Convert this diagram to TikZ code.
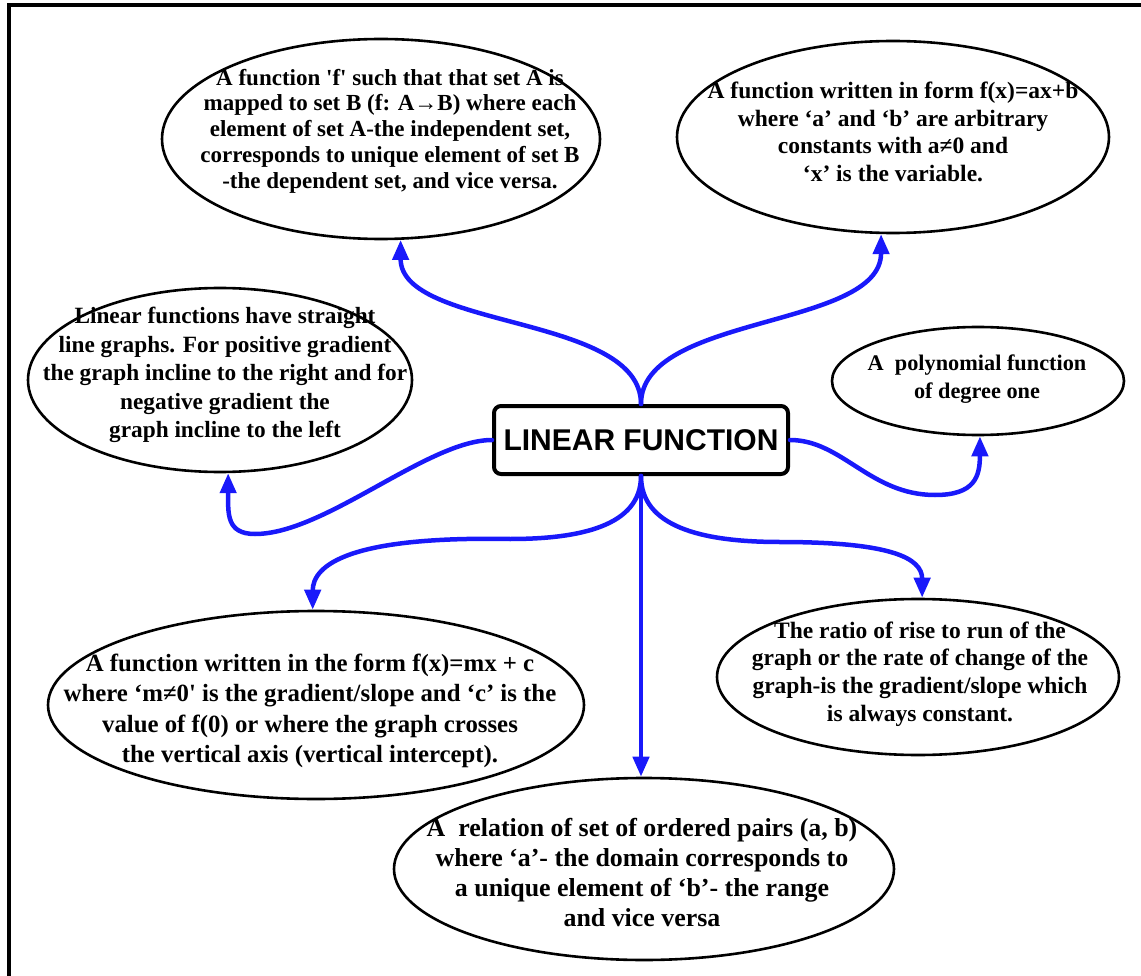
\documentclass[tikz,border=0pt]{standalone}
\usepackage{fontspec}
\setmainfont{Liberation Serif}
\newfontfamily\headfont{Liberation Sans}
\usetikzlibrary{shapes.geometric,arrows.meta,calc}
\definecolor{linkblue}{RGB}{25,25,250}
\begin{document}
\begin{tikzpicture}[x=1pt,y=-1pt,
  bubble/.style={draw, ellipse, line width=2.6pt, inner sep=0pt},
  note/.style={align=center, inner sep=0pt},
  link/.style={draw=linkblue, line width=4.5pt, line cap=round,
    -{Triangle[length=20pt,width=16pt]}},
  hub/.style={draw, fill=white, line width=4pt, rounded corners=7pt,
    inner sep=0pt, minimum width=294pt, minimum height=68pt,
    font=\headfont\bfseries\fontsize{30}{30}\selectfont}
]
\useasboundingbox (0,0) rectangle (1141,976);

% outer frame
\draw[line width=4pt] (9,1000) -- (9,5) -- (1160,5);

% bubbles
\node[bubble, minimum width=438pt, minimum height=200pt] (e1) at (381,139) {};
\node[bubble, minimum width=432pt, minimum height=192pt] (e2) at (893,137) {};
\node[bubble, minimum width=384pt, minimum height=184pt] (e3) at (220,380) {};
\node[bubble, minimum width=292pt, minimum height=108pt] (e4) at (978,381) {};
\node[bubble, minimum width=536pt, minimum height=188pt] (e5) at (316,705) {};
\node[bubble, minimum width=402pt, minimum height=156pt] (e6) at (918,677) {};
\node[bubble, minimum width=500pt, minimum height=182pt] (e7) at (644,869) {};

% bubble texts
\node[note, font=\bfseries\fontsize{23}{25.8}\selectfont] (t1) at (390,131)
  {A function \textquotesingle f\textquotesingle{} such that that set A is\\
   mapped to set B (f: A→B) where each\\
   element of set A-the independent set,\\
   corresponds to unique element of set B\\
   -the dependent set, and vice versa.};
\node[note, font=\bfseries\fontsize{23.5}{27.7}\selectfont] (t2) at (893,132)
  {A function written in form f(x)=ax+b\\
   where ‘a’ and ‘b’ are arbitrary\\
   constants with a≠0 and\\
   ‘x’ is the variable.};
\node[note, font=\bfseries\fontsize{23.3}{28.5}\selectfont] (t3) at (225,375)
  {Linear functions have straight\\
   line graphs. For positive gradient\\
   the graph incline to the right and for\\
   negative gradient the\\
   graph incline to the left};
\node[note, font=\bfseries\fontsize{22.3}{28}\selectfont] (t4) at (977,379)
  {A~~polynomial function\\
   of degree one};
\node[note, font=\bfseries\fontsize{24.8}{30.3}\selectfont] (t5) at (310,711)
  {A function written in the form f(x)=mx + c\\
   where ‘m≠0\textquotesingle{} is the gradient/slope and ‘c’ is the\\
   value of f(0) or where the graph crosses\\
   the vertical axis (vertical intercept).};
\node[note, font=\bfseries\fontsize{23.5}{27.7}\selectfont] (t6) at (920,674)
  {The ratio of rise to run of the\\
   graph or the rate of change of the\\
   graph-is the gradient/slope which\\
   is always constant.};
\node[note, font=\bfseries\fontsize{25.9}{30}\selectfont] (t7) at (642,873)
  {A~~relation of set of ordered pairs (a, b)\\
   where ‘a’- the domain corresponds to\\
   a unique element of ‘b’- the range\\
   and vice versa};

% central topic
\node[hub] (lf) at (641,440) {LINEAR FUNCTION};

% waypoints of the branches
\coordinate (c1) at (255,534);
\coordinate (d1) at (510,539);
\coordinate (r1) at (780,542);
\coordinate (g1) at (935,495);

% branches
\draw[link] (lf.north) .. controls +(0,-90) and +(0,90) .. (e1.281);
\draw[link] (lf.north) .. controls +(0,-90) and +(0,95) .. (e2.263);
\draw[link] (lf.west) .. controls +(-64,0) and +(70,0) .. (c1)
  .. controls +(-29,0) and +(0,40) .. (e3.275);
\draw[link] (lf.south) .. controls +(0,50) and +(70,0) .. (d1)
  .. controls +(-160,-3) and +(0,-45) .. (e5.92);
\draw[link] (lf.south) .. controls +(0,50) and +(-80,0) .. (r1)
  .. controls +(110,0) and +(0,-40) .. (e6.87);
\draw[link] (lf.south) -- (lf.south |- e7.north);
\draw[link] (lf.east) .. controls +(52,0) and +(-65,0) .. (g1)
  .. controls +(40,0) and +(0,40) .. (e4.272);
\end{tikzpicture}
\end{document}
